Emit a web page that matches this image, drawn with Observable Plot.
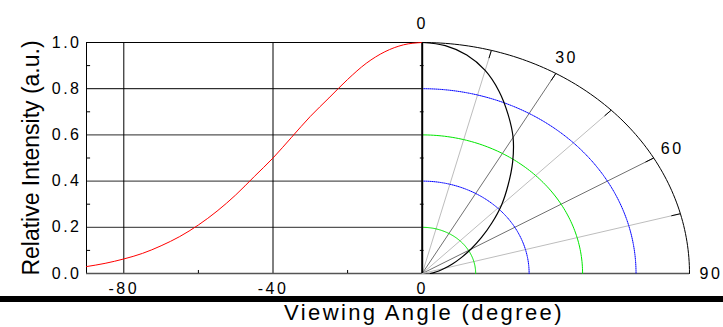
<!DOCTYPE html>
<html><head><meta charset="utf-8">
<script src="https://cdn.jsdelivr.net/npm/d3@7"></script>
<script src="https://cdn.jsdelivr.net/npm/@observablehq/plot@0.6"></script>
<style>
html,body{margin:0;padding:0;background:#fff;}
#wrap{position:relative;width:723px;height:327px;font-family:"Liberation Sans",Arial,sans-serif;overflow:hidden;}
#chart svg{display:block;}
#bar{position:absolute;left:0;top:296px;width:723px;height:6px;background:#000;}
#xtitle{position:absolute;left:424px;top:300px;transform:translateX(-50%);font-size:22px;letter-spacing:2.4px;white-space:nowrap;color:#000;line-height:26px;}
</style></head><body>
<div id="wrap"><div id="chart"></div><div id="bar"></div><div id="xtitle"></div></div>
<script>
// ---- data ----
const viewAngles = [0, 5, 10, 15, 20, 25, 30, 35, 40, 45, 50, 55, 60, 65, 70, 75, 80, 85, 90];
const relIntensity = [1.00, 0.99, 0.96, 0.91, 0.84, 0.76, 0.68, 0.59, 0.50, 0.42, 0.34, 0.27, 0.21, 0.16, 0.12, 0.087, 0.063, 0.044, 0.030];
const yTicks = [0, 0.2, 0.4, 0.6, 0.8, 1.0];
const yMinorTicks = [0.1, 0.3, 0.5, 0.7, 0.9];
const yGridDark = [0.8];
const yGridLight = [0.2, 0.4, 0.6];
const xTicks = [-80, -40, 0];
const xMinorTicks = [-60, -20];
const xGrid = [-80, -40];
const polarRadii = [0.2, 0.4, 0.6, 0.8, 1.0];
const polarSpokes = [15, 30, 45, 60, 75];
const polarTickAngles = [15, 30, 45, 60, 75];
const polarLabels = [0, 30, 60, 90];
const yTitle = "Relative Intensity (a.u.)";
const xTitle = "Viewing Angle (degree)";

// ---- layout ----
const RX = 71.66; // polar radius 1.0 expressed in x-scale units (horizontal)
const rad = a => a * Math.PI / 180;
const px = (r, a) => r * Math.sin(rad(a)) * RX;
const py = (r, a) => r * Math.cos(rad(a));

const cartesian = viewAngles.map((a, i) => ({x: -a, y: relIntensity[i]}));
const polarCurve = viewAngles.map((a, i) => ({x: px(relIntensity[i], a), y: py(relIntensity[i], a)}));

const arcPts = [];
for (const r of polarRadii) for (let a = 0; a <= 90; a += 1) arcPts.push({r, x: px(r, a), y: py(r, a)});
const arcStyle = {
  0.2: {stroke: "#00e600"}, 0.4: {stroke: "#0000ff", strokeDasharray: "1,1"},
  0.6: {stroke: "#00e600"}, 0.8: {stroke: "#0000ff", strokeDasharray: "1,1"},
  1.0: {stroke: "#000"}
};

const chart = Plot.plot({
  width: 723, height: 296,
  marginLeft: 86, marginRight: 34, marginTop: 42, marginBottom: 23,
  x: {domain: [-90, RX], label: null},
  y: {domain: [0, 1], label: null},
  style: {fontFamily: "Liberation Sans, Arial, sans-serif", fontSize: "16px", color: "#000", background: "#fff"},
  marks: [
    // cartesian grid & frame
    Plot.ruleY(yGridLight, {x1: -90, x2: 0, stroke: "#555", strokeWidth: 1.3}),
    Plot.ruleY(yGridDark, {x1: -90, x2: 0, stroke: "#000"}),
    Plot.ruleX(xGrid, {y1: 0, y2: 1, stroke: "#000"}),
    Plot.ruleX([-90], {y1: 0, y2: 1, stroke: "#000"}),
    Plot.ruleY([1], {x1: -90, x2: 0, stroke: "#000"}),
    Plot.ruleY([0], {x1: -90, x2: RX, stroke: "#555", strokeWidth: 1.3}),
    Plot.ruleY(yMinorTicks, {x1: -90, x2: -88.9, stroke: "#000"}),
    Plot.ruleX(xMinorTicks, {y1: 0, y2: 0.013, stroke: "#000"}),
    // polar spokes
    Plot.link(polarSpokes, {x1: 0, y1: 0, x2: a => px(1, a), y2: a => py(1, a),
      stroke: a => a % 30 === 0 ? "#707070" : "#bdbdbd", strokeWidth: 1}),
    Plot.link(polarTickAngles, {x1: a => px(0.965, a), y1: a => py(0.965, a), x2: a => px(1, a), y2: a => py(1, a), stroke: "#000"}),
    // polar arcs
    ...polarRadii.map(r => Plot.line(arcPts.filter(d => d.r === r), {x: "x", y: "y", strokeWidth: 1, ...arcStyle[r]})),
    // polar vertical axis
    Plot.ruleX([0], {y1: 0, y2: 1, stroke: "#000", strokeWidth: 2}),
    Plot.ruleY(yMinorTicks, {x1: -0.5, x2: 0.5, stroke: "#000"}),
    // curves
    Plot.line(cartesian, {x: "x", y: "y", stroke: "#ff0000", strokeWidth: 1, curve: "monotone-x"}),
    Plot.line(polarCurve, {x: "x", y: "y", stroke: "#000", strokeWidth: 1.2, curve: "catmull-rom"}),
    // axes
    Plot.axisX(xTicks, {tickSize: 0, tickPadding: 9, tickFormat: d => String(d), label: null}),
    Plot.axisY(yTicks, {tickSize: 0, tickPadding: 5, tickFormat: d => d.toFixed(1), label: null}),
    Plot.text(polarLabels, {x: a => px(1.08, a), y: a => py(1.08, a), text: a => String(a), textAnchor: "middle", lineAnchor: "middle"}),
    Plot.text([yTitle], {frameAnchor: "left", textAnchor: "middle", lineAnchor: "middle", rotate: -90, dx: -55, text: d => d, fontSize: 23})
  ]
});
d3.select(chart).selectAll("text").each(function () {
  this.style.letterSpacing = this.textContent === yTitle ? "0px" : "2.5px";
});
document.getElementById("chart").appendChild(chart);
document.getElementById("xtitle").textContent = xTitle;
</script>
</body></html>
